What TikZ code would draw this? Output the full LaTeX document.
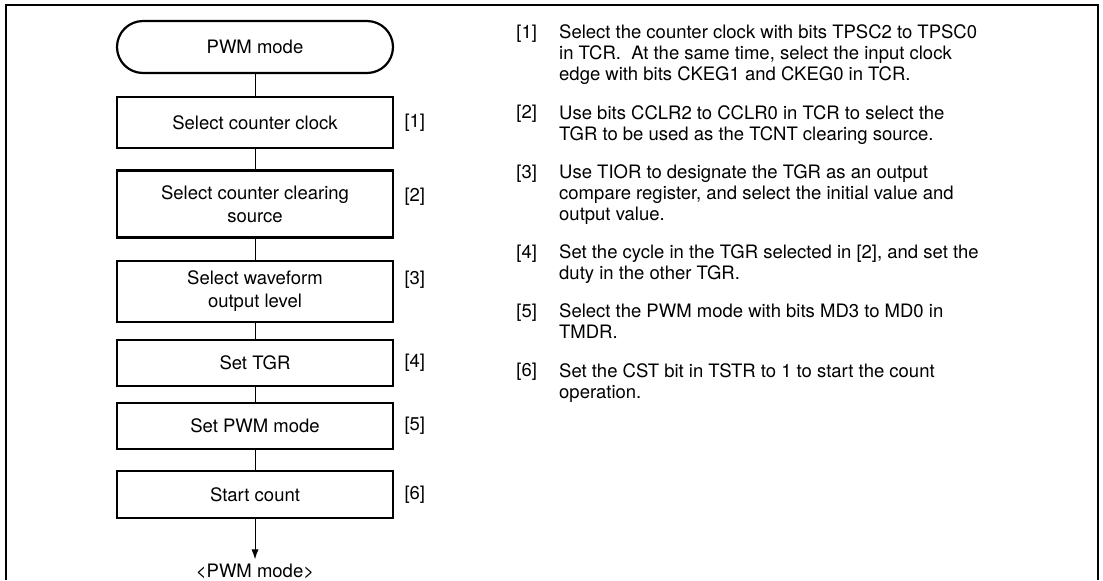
\documentclass[tikz,border=0pt]{standalone}
\usepackage{fontspec}
\setmainfont{TeX Gyre Heros}
\usetikzlibrary{positioning,arrows.meta}

\begin{document}
\begin{tikzpicture}[x=.5pt,y=-.5pt,
 b/.style={draw,line width=1.1pt,minimum width=138pt,align=center,font=\fontsize{9.25}{11.5}\selectfont},
 s/.style={b,rounded corners=13pt,minimum height=26pt},
 n/.style={font=\fontsize{9.25}{10.5}\selectfont,inner sep=0pt},
 d/.style={font=\fontsize{9.25}{10.5}\selectfont,align=left,inner sep=0pt},
 a/.style={line width=.5pt}]
\useasboundingbox (0,0) rectangle (1103,580);
\draw[line width=1pt] (6,580)--(6,5)--(1098,5)--(1098,580);
% flow chart
\node[s] (s) at (255,47) {PWM mode};
\node[b,minimum height=25.5pt,below=11pt of s] (b1) {Select counter clock};
\node[b,minimum height=33.5pt,below=10pt of b1] (b2) {Select counter clearing\\source};
\node[b,minimum height=30.5pt,below=10.5pt of b2] (b3) {Select waveform\\output level};
\node[b,minimum height=23pt,below=8pt of b3] (b4) {Set TGR};
\node[b,minimum height=23pt,below=7.5pt of b4] (b5) {Set PWM mode};
\node[b,minimum height=23.5pt,below=10pt of b5] (b6) {Start count};
\node[n,inner sep=2pt,below=20pt of b6] (e) {<PWM mode>};
\draw[a] (s)--(b1);\draw[a] (b1)--(b2);\draw[a] (b2)--(b3);\draw[a] (b3)--(b4);\draw[a] (b4)--(b5);\draw[a] (b5)--(b6);
\draw[a,-{Latex[length=5pt,width=3.6pt]}] (b6)--(e);
\node[n,right=5pt of b1] (l1) {[1]};
\node[n,right=5pt of b2,yshift=3.75pt] (l2) {[2]};
\node[n,right=5pt of b3,yshift=5.75pt] (l3) {[3]};
\node[n,right=5pt of b4] (l4) {[4]};
\node[n,right=5pt of b5] (l5) {[5]};
\node[n,right=5pt of b6] (l6) {[6]};
% notes
\node[n,anchor=base west] (n1) at (516,38.5) {[1]};
\node[n,anchor=base west] (n2) at (516,118.75) {[2]};
\node[n,anchor=base west] (n3) at (516,178) {[3]};
\node[n,anchor=base west] (n4) at (516,258.25) {[4]};
\node[n,anchor=base west] (n5) at (516,317.5) {[5]};
\node[n,anchor=base west] (n6) at (516,376.75) {[6]};
\node[d,right=10.7pt of n1.north east,anchor=north west] (d1) {Select the counter clock with bits TPSC2 to TPSC0\\in TCR.~ At the same time, select the input clock\\edge with bits CKEG1 and CKEG0 in TCR.};
\node[d,right=10.7pt of n2.north east,anchor=north west] (d2) {Use bits CCLR2 to CCLR0 in TCR to select the\\TGR to be used as the TCNT clearing source.};
\node[d,right=10.7pt of n3.north east,anchor=north west] (d3) {Use TIOR to designate the TGR as an output\\compare register, and select the initial value and\\output value.};
\node[d,right=10.7pt of n4.north east,anchor=north west] (d4) {Set the cycle in the TGR selected in [2], and set the\\duty in the other TGR.};
\node[d,right=10.7pt of n5.north east,anchor=north west] (d5) {Select the PWM mode with bits MD3 to MD0 in\\TMDR.};
\node[d,right=10.7pt of n6.north east,anchor=north west] (d6) {Set the CST bit in TSTR to 1 to start the count\\operation.};
\end{tikzpicture}
\end{document}
